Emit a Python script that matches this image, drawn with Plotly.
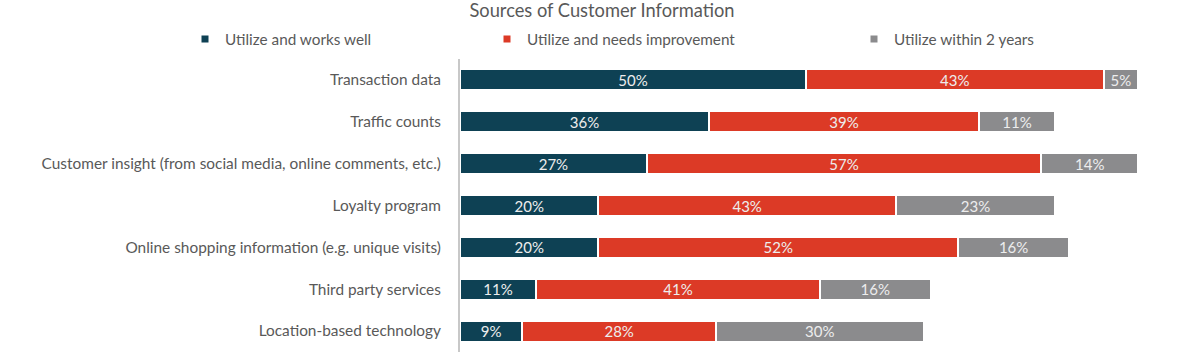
import plotly.graph_objects as go

categories = [
    "Transaction data",
    "Traffic counts",
    "Customer insight (from social media, online comments, etc.)",
    "Loyalty program",
    "Online shopping information (e.g. unique visits)",
    "Third party services",
    "Location-based technology",
]
series_names = ["Utilize and works well", "Utilize and needs improvement", "Utilize within 2 years"]
works_well = [50, 36, 27, 20, 20, 11, 9]
needs_improvement = [43, 39, 57, 43, 52, 41, 28]
within_2_years = [5, 11, 14, 23, 16, 16, 30]

colors = ["#0E4154", "#DC3A26", "#8B8B8D"]
FONT = "Lato, 'Open Sans', sans-serif"
TXT = "#595959"

W, H = 1197, 364
L, R, T, B = 460, 45, 59, 12
pw = W - L - R

fig = go.Figure()
values = [works_well, needs_improvement, within_2_years]
legend_ids = ["legend", "legend2", "legend3"]
for name, vals, col, lg in zip(series_names, values, colors, legend_ids):
    fig.add_trace(go.Bar(
        y=categories, x=vals, name=name, orientation="h",
        marker=dict(color=col, line=dict(color="white", width=2)),
        text=[f"{v}%" for v in vals], textposition="inside", insidetextanchor="middle",
        constraintext="none",
        textfont=dict(color="#EDEDED", size=15, family=FONT),
        showlegend=False, hoverinfo="x+y",
    ))
    fig.add_trace(go.Scatter(
        x=[None], y=[None], mode="markers", name=name,
        marker=dict(symbol="square", size=7, color=col),
        legend=lg, showlegend=True,
    ))

def px_to_paper(px):
    return (px - L) / pw

leg_y = (H - B - 39) / (H - T - B)
leg_common = dict(orientation="h", yanchor="middle", y=leg_y, xanchor="left",
                  font=dict(family=FONT, size=15.3, color=TXT), bgcolor="rgba(0,0,0,0)",
                  itemwidth=30)

fig.update_layout(
    width=W, height=H,
    margin=dict(l=L, r=R, t=T, b=B, autoexpand=False),
    paper_bgcolor="white", plot_bgcolor="white",
    barmode="stack", bargap=0.5,
    font=dict(family=FONT, size=15, color=TXT),
    title=dict(text="Sources of Customer Information", x=602 / W, xanchor="center",
               y=1 - 11 / H, yanchor="middle", yref="container", xref="container",
               font=dict(family=FONT, size=18.3, color=TXT)),
    legend=dict(**leg_common, x=px_to_paper(185)),
    legend2=dict(**leg_common, x=px_to_paper(487)),
    legend3=dict(**leg_common, x=px_to_paper(854)),
    xaxis=dict(range=[0, 100], visible=False, fixedrange=True),
    yaxis=dict(autorange="reversed", showline=True, linecolor="#C8C8C8", linewidth=2,
               ticks="", ticklabelstandoff=14, showgrid=False, automargin=False,
               tickfont=dict(family=FONT, size=15.4, color=TXT)),
)

fig.write_html("out.html", config={"displayModeBar": False},
               post_script="document.body.style.margin='0';")
